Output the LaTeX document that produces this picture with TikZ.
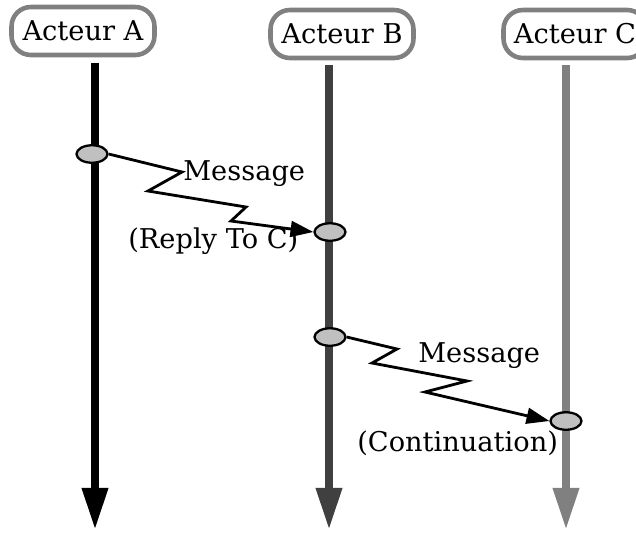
\documentclass[tikz,border=0pt]{standalone}
\usepackage{fontspec}
\setmainfont{DejaVu Serif}
\usetikzlibrary{arrows.meta,shapes.geometric}
\definecolor{boxgray}{HTML}{808080}
\definecolor{lifeB}{HTML}{404040}
\definecolor{lifeC}{HTML}{808080}
\definecolor{actfill}{HTML}{C0C0C0}

\begin{document}
\begin{tikzpicture}[x=0.02cm,y=-0.02cm,
  actor/.style={rectangle,rounded corners=11pt,draw=boxgray,line width=2.6pt,
                fill=white,minimum width=2.86cm,minimum height=0.96cm,
                inner sep=0pt,font=\fontsize{15.5}{18}\selectfont},
  life/.style={line width=4.6pt,-{Triangle[length=24pt,width=14pt]}},
  act/.style={ellipse,draw,line width=1.3pt,fill=actfill,
              minimum width=0.62cm,minimum height=0.35cm,inner sep=0pt},
  msg/.style={line width=1.6pt,-{Triangle[length=13pt,width=9pt]}},
  lbl/.style={font=\fontsize{15.5}{18}\selectfont,inner sep=0pt}
]
\useasboundingbox (0,0) rectangle (636,532);

% Actors
\node[actor] (actA) at (83,31)  {Acteur A};
\node[actor] (actB) at (342,34) {Acteur B};
\node[actor] (actC) at (575,34) {Acteur C};

% Lifelines
\coordinate (topA) at (95,63);   \coordinate (endA) at (95,530);
\coordinate (topB) at (329,65);  \coordinate (endB) at (329,530);
\coordinate (topC) at (566,65);  \coordinate (endC) at (566,530);
\draw[life,black] (topA) -- (endA);
\draw[life,lifeB] (topB) -- (endB);
\draw[life,lifeC] (topC) -- (endC);

% Activations
\node[act] (a1) at (92,154)  {};
\node[act] (b1) at (330,232) {};
\node[act] (b2) at (330,337) {};
\node[act] (c1) at (566,421) {};

% Messages
\draw[msg] (a1.east) -- (182,172) -- (148,191) -- (246,207) -- (231,221) -- (b1.west);
\draw[msg] (b2.east) -- (397,349) -- (372,363) -- (467,381) -- (425,392) -- (c1.west);

% Labels
\node[lbl,anchor=base west] (m1)  at (183,180) {Message};
\node[lbl,anchor=base west] (r1)  at (128,248) {(Reply To C)};
\node[lbl,anchor=base west] (m2)  at (418,362) {Message};
\node[lbl,anchor=base west] (r2)  at (357,451) {(Continuation)};

\end{tikzpicture}
\end{document}
